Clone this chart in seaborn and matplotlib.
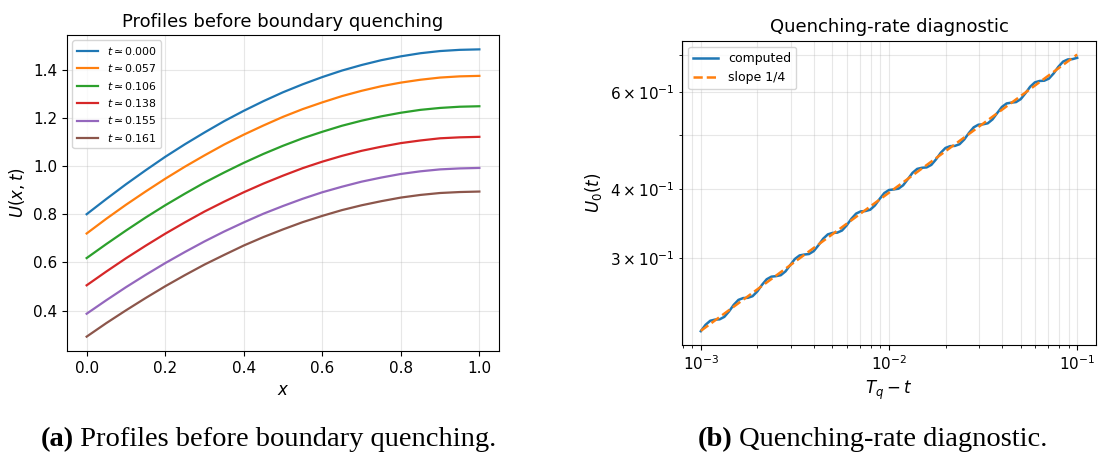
import numpy as np
import matplotlib
matplotlib.use("Agg")
import matplotlib.pyplot as plt
import seaborn as sns

# ---------------- data: panel (a) ----------------
x_grid = [0.00, 0.05, 0.10, 0.15, 0.20, 0.25, 0.30, 0.35, 0.40, 0.45, 0.50,
          0.55, 0.60, 0.65, 0.70, 0.75, 0.80, 0.85, 0.90, 0.95, 1.00]
profile_labels = [r"$t \simeq 0.000$", r"$t \simeq 0.057$", r"$t \simeq 0.106$",
                  r"$t \simeq 0.138$", r"$t \simeq 0.155$", r"$t \simeq 0.161$"]
u_t0000 = [0.800, 0.863, 0.924, 0.982, 1.038, 1.090, 1.139, 1.186, 1.229, 1.269, 1.306,
           1.339, 1.369, 1.396, 1.419, 1.439, 1.455, 1.468, 1.477, 1.482, 1.484]
u_t0057 = [0.720, 0.781, 0.839, 0.894, 0.947, 0.997, 1.044, 1.089, 1.130, 1.168, 1.204,
           1.236, 1.264, 1.290, 1.312, 1.331, 1.346, 1.358, 1.367, 1.372, 1.374]
u_t0106 = [0.618, 0.676, 0.732, 0.786, 0.837, 0.885, 0.931, 0.973, 1.013, 1.050, 1.084,
           1.115, 1.142, 1.167, 1.188, 1.206, 1.221, 1.233, 1.241, 1.246, 1.248]
u_t0138 = [0.505, 0.562, 0.617, 0.669, 0.719, 0.766, 0.811, 0.852, 0.891, 0.927, 0.960,
           0.991, 1.018, 1.042, 1.063, 1.080, 1.095, 1.106, 1.115, 1.119, 1.121]
u_t0155 = [0.387, 0.443, 0.497, 0.548, 0.597, 0.643, 0.687, 0.728, 0.766, 0.802, 0.834,
           0.864, 0.891, 0.914, 0.935, 0.952, 0.967, 0.978, 0.986, 0.990, 0.992]
u_t0161 = [0.292, 0.348, 0.401, 0.452, 0.501, 0.547, 0.591, 0.631, 0.670, 0.705, 0.737,
           0.767, 0.793, 0.817, 0.837, 0.854, 0.869, 0.880, 0.888, 0.892, 0.894]
profiles = [u_t0000, u_t0057, u_t0106, u_t0138, u_t0155, u_t0161]

# ---------------- data: panel (b) ----------------
log10_gap = [-3.000, -2.975, -2.950, -2.925, -2.900, -2.875, -2.850, -2.825, -2.800,
             -2.775, -2.750, -2.725, -2.700, -2.675, -2.650, -2.625, -2.600, -2.575,
             -2.550, -2.525, -2.500, -2.475, -2.450, -2.425, -2.400, -2.375, -2.350,
             -2.325, -2.300, -2.275, -2.250, -2.225, -2.200, -2.175, -2.150, -2.125,
             -2.100, -2.075, -2.050, -2.025, -2.000, -1.975, -1.950, -1.925, -1.900,
             -1.875, -1.850, -1.825, -1.800, -1.775, -1.750, -1.725, -1.700, -1.675,
             -1.650, -1.625, -1.600, -1.575, -1.550, -1.525, -1.500, -1.475, -1.450,
             -1.425, -1.400, -1.375, -1.350, -1.325, -1.300, -1.275, -1.250, -1.225,
             -1.200, -1.175, -1.150, -1.125, -1.100, -1.075, -1.050, -1.025, -1.000]
u0_computed = [0.2212, 0.2271, 0.2310, 0.2321, 0.2324, 0.2348, 0.2402, 0.2469, 0.2520,
               0.2539, 0.2542, 0.2559, 0.2610, 0.2683, 0.2746, 0.2776, 0.2782, 0.2793,
               0.2838, 0.2913, 0.2989, 0.3033, 0.3044, 0.3051, 0.3088, 0.3164, 0.3251,
               0.3311, 0.3331, 0.3335, 0.3364, 0.3437, 0.3533, 0.3610, 0.3644, 0.3649,
               0.3669, 0.3735, 0.3837, 0.3933, 0.3983, 0.3993, 0.4005, 0.4062, 0.4167,
               0.4279, 0.4350, 0.4370, 0.4377, 0.4423, 0.4526, 0.4652, 0.4746, 0.4782,
               0.4787, 0.4821, 0.4917, 0.5054, 0.5172, 0.5229, 0.5238, 0.5260, 0.5346,
               0.5489, 0.5631, 0.5713, 0.5733, 0.5746, 0.5817, 0.5961, 0.6125, 0.6237,
               0.6274, 0.6281, 0.6337, 0.6475, 0.6656, 0.6801, 0.6863, 0.6872, 0.6910]
slope_gap = [1e-3, 1e-1]
slope_u0 = [0.2215, 0.7005]

colors = sns.color_palette("tab10", 6)

fig = plt.figure(figsize=(10.99, 4.63), dpi=100)
ax1 = fig.add_axes([67 / 1099, 1 - 351 / 463, 432 / 1099, 316 / 463])
ax2 = fig.add_axes([682 / 1099, 1 - 345 / 463, 414 / 1099, 304.3 / 463])

# panel (a)
for lab, prof, col in zip(profile_labels, profiles, colors):
    sns.lineplot(x=x_grid, y=prof, ax=ax1, color=col, label=lab, linewidth=1.6,
                 estimator=None, sort=False)
ax1.set_title("Profiles before boundary quenching", fontsize=13)
ax1.set_xlabel(r"$x$", fontsize=12)
ax1.set_ylabel(r"$U(x,t)$", fontsize=12)
ax1.grid(True, alpha=0.3)
ax1.tick_params(labelsize=11)
ax1.legend(loc="upper left", fontsize=7.8)

# panel (b)
gap = [10.0 ** e for e in log10_gap]
sns.lineplot(x=gap, y=u0_computed, ax=ax2, color=colors[0], label="computed",
             linewidth=1.8, estimator=None, sort=False)
sns.lineplot(x=slope_gap, y=slope_u0, ax=ax2, color=colors[1], label="slope 1/4",
             linewidth=1.8, linestyle="--", estimator=None, sort=False)
ax2.set_xscale("log")
ax2.set_yscale("log")
ax2.set_title("Quenching-rate diagnostic", fontsize=13)
ax2.set_xlabel(r"$T_q - t$", fontsize=12)
ax2.set_ylabel(r"$U_0(t)$", fontsize=12)
ax2.grid(True, which="both", alpha=0.3)
ax2.tick_params(which="both", labelsize=11)
ax2.legend(loc="upper left", fontsize=9)

# captions
fig.canvas.draw()
renderer = fig.canvas.get_renderer()
cap_font = ["Liberation Serif", "DejaVu Serif"]
cap_y = 1 - 440 / 463
for bold_txt, rest_txt, cx in [("(a)", " Profiles before boundary quenching.", 268.5),
                               ("(b)", " Quenching-rate diagnostic.", 872.5)]:
    tb = fig.text(0, cap_y, bold_txt, fontsize=20.5, family=cap_font, fontweight="bold",
                  va="center", ha="left")
    tr = fig.text(0, cap_y, rest_txt, fontsize=20.5, family=cap_font,
                  va="center", ha="left")
    wb = tb.get_window_extent(renderer).width
    wr = tr.get_window_extent(renderer).width
    left = cx - (wb + wr) / 2
    tb.set_x(left / 1099)
    tr.set_x((left + wb) / 1099)

fig.savefig("out.png", dpi=100)
